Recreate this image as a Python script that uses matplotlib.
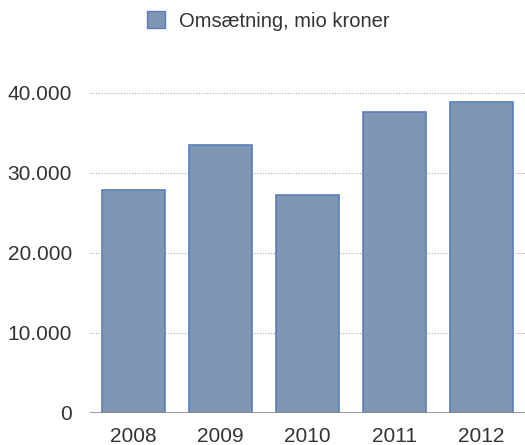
import matplotlib.pyplot as plt
from matplotlib.ticker import FuncFormatter
from matplotlib.patches import Patch

years = ['2008', '2009', '2010', '2011', '2012']
omsaetning = [27900, 33500, 27300, 37600, 38900]
yticks = [0, 10000, 20000, 30000, 40000]

plt.rcParams['font.family'] = ['Liberation Sans', 'DejaVu Sans']

fig = plt.figure(figsize=(5.25, 4.45), dpi=100)
ax = fig.add_axes([90 / 525, 32 / 445, 435 / 525, 320 / 445])

x = range(len(years))
ax.bar(x, omsaetning, width=0.72, color='#7f96b4', edgecolor='#5b7fba',
       linewidth=1.2, zorder=3)

ax.set_xlim(-0.5, 4.5)
ax.set_ylim(0, 40000)
ax.set_xticks(list(x))
ax.set_xticklabels(years)
ax.set_yticks(yticks)
ax.yaxis.set_major_formatter(FuncFormatter(lambda v, p: f'{int(v):,}'.replace(',', '.')))

for y in yticks[1:]:
    ax.axhline(y, color='#aaaaaa', linestyle=(0, (1, 1.5)), linewidth=0.8,
               zorder=1, clip_on=False)
ax.axhline(0, color='#888888', linewidth=1.2, zorder=4)

for s in ax.spines.values():
    s.set_visible(False)
ax.tick_params(length=0, labelsize=15, colors='#333333')
ax.tick_params(axis='y', pad=13)
ax.tick_params(axis='x', pad=10)

fig.legend(handles=[Patch(facecolor='#7f96b4', edgecolor='#5b7fba', label='Omsætning, mio kroner')],
           loc='center', bbox_to_anchor=(268 / 525, 1 - 21 / 445), frameon=False,
           fontsize=14.5, handlelength=0.9, handleheight=0.9, handletextpad=0.7,
           labelcolor='#333333')

fig.savefig('out.png', dpi=100)
